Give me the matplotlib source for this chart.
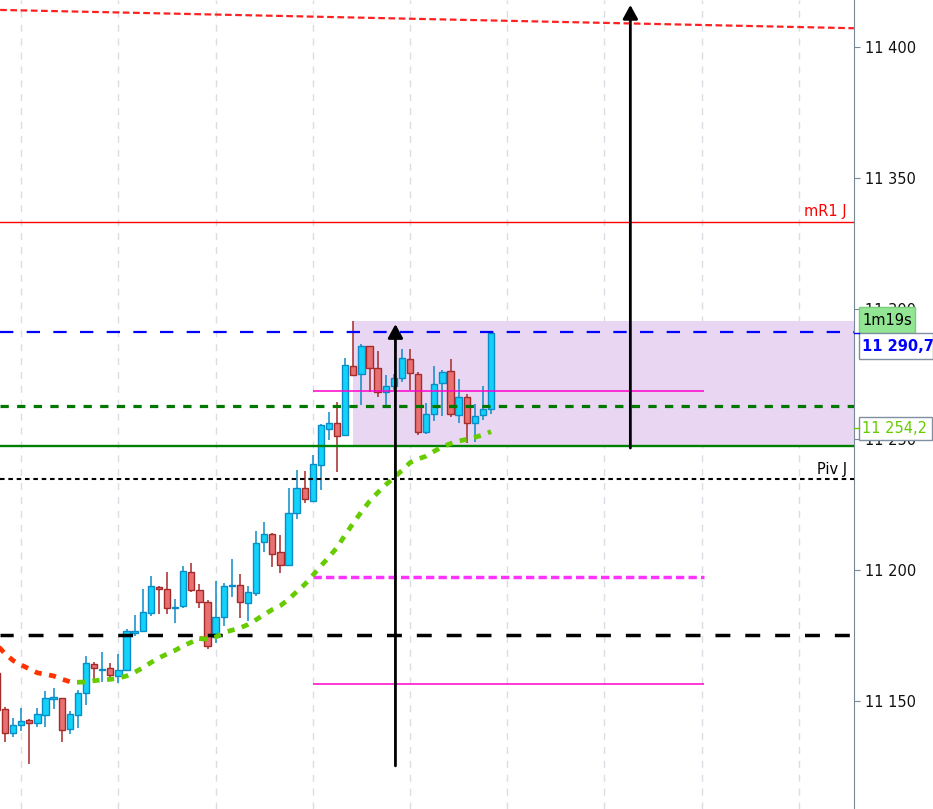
import numpy as np
import matplotlib.pyplot as plt
from matplotlib.patches import Rectangle
from matplotlib.lines import Line2D
from matplotlib.transforms import blended_transform_factory

# bougies : la premiere (index -1) est coupee par le bord gauche
opens = [11160.6, 11146.8, 11137.7, 11140.8, 11142.6, 11141.5, 11144.5, 11150.7, 11151.0, 11139.2,
         11144.5, 11152.9, 11164.0, 11161.8, 11162.5, 11159.4, 11161.7, 11175.9, 11176.8, 11183.5,
         11193.5, 11192.7, 11185.5, 11186.2, 11199.2, 11192.3, 11187.7, 11174.4, 11182.0, 11194.0,
         11194.2, 11187.3, 11191.2, 11210.7, 11213.7, 11206.8, 11202.1, 11222.0, 11231.3, 11226.6,
         11240.3, 11254.1, 11256.2, 11251.6, 11277.9, 11274.9, 11285.6, 11277.2, 11268.0, 11270.3,
         11273.4, 11280.6, 11274.9, 11252.7, 11259.6, 11271.4, 11276.0, 11259.2, 11266.1, 11256.2,
         11259.2, 11261.5]
highs = [11163.0, 11147.8, 11143.5, 11147.2, 11143.1, 11147.2, 11153.6, 11154.9, 11151.2, 11146.1,
         11154.2, 11167.2, 11164.8, 11168.7, 11164.4, 11167.9, 11177.5, 11182.9, 11192.8, 11197.8,
         11193.8, 11199.3, 11189.0, 11201.6, 11202.6, 11194.5, 11188.5, 11195.9, 11195.0, 11204.2,
         11198.4, 11194.1, 11215.0, 11218.4, 11214.1, 11213.5, 11231.4, 11238.3, 11237.9, 11244.0,
         11255.9, 11260.4, 11264.2, 11281.2, 11295.3, 11286.5, 11285.8, 11283.8, 11274.5, 11275.0,
         11284.6, 11284.6, 11275.7, 11263.8, 11277.9, 11276.4, 11280.6, 11273.0, 11267.4, 11263.4,
         11270.3, 11291.3]
lows = [11144.0, 11134.1, 11136.0, 11138.3, 11125.8, 11139.8, 11139.8, 11146.8, 11134.4, 11137.3,
        11139.6, 11148.4, 11158.3, 11157.0, 11158.7, 11156.8, 11161.7, 11174.6, 11176.8, 11182.6,
        11183.1, 11183.1, 11179.9, 11185.4, 11191.6, 11185.4, 11169.8, 11172.1, 11178.6, 11189.6,
        11181.6, 11180.7, 11189.9, 11207.1, 11201.3, 11199.0, 11202.1, 11219.7, 11225.8, 11226.2,
        11230.8, 11249.9, 11237.7, 11251.4, 11274.3, 11263.1, 11268.2, 11266.3, 11263.1, 11268.9,
        11271.8, 11268.9, 11251.6, 11252.2, 11256.9, 11258.8, 11258.4, 11256.2, 11248.5, 11248.9,
        11257.3, 11259.6]
closes = [11146.5, 11137.7, 11140.7, 11142.4, 11141.5, 11144.9, 11151.0, 11151.4, 11138.8, 11144.9,
          11152.9, 11164.4, 11162.5, 11162.1, 11159.8, 11161.7, 11176.8, 11176.8, 11183.9, 11193.8,
          11192.7, 11185.4, 11185.9, 11199.6, 11192.3, 11187.7, 11170.9, 11182.0, 11193.8, 11194.3,
          11187.7, 11191.6, 11210.3, 11213.7, 11206.3, 11202.1, 11221.8, 11231.3, 11227.3, 11240.5,
          11255.4, 11256.2, 11251.4, 11278.3, 11274.5, 11285.6, 11277.2, 11268.0, 11270.3, 11273.4,
          11281.0, 11275.3, 11252.7, 11259.6, 11271.1, 11275.7, 11259.6, 11266.1, 11256.2, 11258.8,
          11261.5, 11290.7]
# moyenne mobile
ma = [11171.4, 11168.0, 11165.4, 11163.7, 11162.2, 11160.7, 11160.1, 11159.5, 11158.3, 11157.3,
      11157.1, 11157.2, 11157.7, 11158.0, 11158.2, 11158.7, 11159.5, 11160.9, 11162.6, 11164.6,
      11166.4, 11167.9, 11169.3, 11171.0, 11172.4, 11173.8, 11173.6, 11174.4, 11176.0, 11177.0,
      11177.8, 11179.2, 11181.0, 11183.0, 11184.9, 11186.4, 11188.8, 11191.7, 11194.5, 11198.0,
      11201.6, 11205.0, 11208.7, 11213.5, 11218.0, 11222.3, 11226.3, 11229.6, 11232.6, 11235.4,
      11238.1, 11241.1, 11242.5, 11243.6, 11245.5, 11247.2, 11248.4, 11249.4, 11250.0, 11250.8,
      11251.7, 11253.0]
ma_label = 11254.2
last_price = 11290.7
countdown = "1m19s"

# niveaux
mr1_j = 11333.2
piv_j = 11235.0
blue_level = 11291.1
green_dash_level = 11262.7
green_level = 11247.6
black_dash_level = 11175.3
pink_top = 11268.7
pink_mid = 11197.4
pink_low = 11156.3
pink_start, pink_end = 38, 86.3
trend_start, trend_end = (-0.6, 11414.3), (104.8, 11407.3)
zone_start, zone_top, zone_bottom = 43.0, 11295.3, 11247.6
arrow1 = (48.2, 11125.1, 11294.1)
arrow2 = (77.2, 11246.7, 11416.2)

x = np.arange(-1, len(opens) - 1)
o = np.array(opens); c = np.array(closes); h = np.array(highs); l = np.array(lows)
up = c >= o

fig = plt.figure(figsize=(9.33, 8.09), dpi=100)
ax = fig.add_axes([0, 0, 854 / 933, 1])
ax.set_xlim(-0.617, 104.81)
ax.set_ylim(11108.6, 11418.1)

# grille verticale
ax.set_xticks(np.arange(2, 105, 12))
ax.tick_params(axis='x', length=0, labelbottom=False)
ax.grid(axis='x', color='#dcdce4', linestyle=(0, (5, 5)), linewidth=1)
ax.set_axisbelow(True)

for s in ['top', 'left', 'bottom']:
    ax.spines[s].set_visible(False)
ax.spines['right'].set_color('#778899')
ax.yaxis.tick_right()
ax.set_yticks(np.arange(11150, 11401, 50))
ax.set_yticklabels([f"{int(v):,}".replace(',', ' ') for v in np.arange(11150, 11401, 50)])
ax.tick_params(axis='y', length=4, color='#778899', pad=4, labelsize=10.5, labelcolor='#111111')

xmax = ax.get_xlim()[1]

# zone violette
ax.add_patch(Rectangle((zone_start, zone_bottom), xmax - zone_start, zone_top - zone_bottom,
                       facecolor='#e8d6f2', edgecolor='none', zorder=1))

# bougies
up_face, up_edge = '#12d2fa', '#0a8cc8'
dn_face, dn_edge = '#e87070', '#a52a2a'
ax.vlines(x[up], l[up], h[up], color=up_edge, lw=1.1, zorder=2)
ax.vlines(x[~up], l[~up], h[~up], color=dn_edge, lw=1.1, zorder=2)
body = np.maximum(np.abs(c - o), 0.4)
ax.bar(x[up], body[up], 0.78, bottom=np.minimum(o, c)[up], color=up_face, edgecolor=up_edge, lw=1, zorder=3)
ax.bar(x[~up], body[~up], 0.78, bottom=np.minimum(o, c)[~up], color=dn_face, edgecolor=dn_edge, lw=1, zorder=3)

# lignes horizontales
ax.axhline(mr1_j, color='#ff0000', lw=1, zorder=4)
ax.axhline(blue_level, color='#0000ff', lw=1.6, linestyle=(0, (6, 6)), zorder=4)
ax.axhline(green_dash_level, color='#007800', lw=2.3, linestyle=(0, (2.6, 2.6)), zorder=4)
ax.axhline(green_level, color='#008000', lw=1.7, zorder=4)
ax.axhline(piv_j, color='black', lw=1.5, linestyle=(0, (2.2, 1.8)), zorder=4)
ax.axhline(black_dash_level, color='black', lw=2.5, linestyle=(0.5, (4.3, 4.3)), zorder=4)
ax.hlines(pink_top, pink_start, pink_end, color='#ff00cc', lw=1.1, zorder=4)
ax.hlines(pink_mid, pink_start, pink_end, color='#ff33ff', lw=2.5, linestyle=(0, (2.4, 1.2)), zorder=4)
ax.hlines(pink_low, pink_start, pink_end, color='#ff00cc', lw=1.1, zorder=4)
ax.plot([trend_start[0], trend_end[0]], [trend_start[1], trend_end[1]], color='#ff2020',
        lw=1.6, linestyle=(0, (3, 1.6)), zorder=4)

ax.annotate('mR1 J', xy=(xmax, mr1_j), xytext=(-5, 2), textcoords='offset points',
            ha='right', va='bottom', color='#ff0000', fontsize=10.5)
ax.annotate('Piv J', xy=(xmax, piv_j), xytext=(-5, 1.5), textcoords='offset points',
            ha='right', va='bottom', color='black', fontsize=10.5)

# moyenne mobile : vert quand elle monte, rouge quand elle baisse
m = np.array(ma)
rise = np.diff(m) > 0
m_up = np.full(len(m), np.nan)
m_dn = np.full(len(m), np.nan)
for j, r in enumerate(rise):
    if r:
        m_up[j:j + 2] = m[j:j + 2]
    else:
        m_dn[j:j + 2] = m[j:j + 2]
ax.plot(x, m_dn, color='#ff3300', lw=3.4, linestyle=(0, (1.5, 1.6)), zorder=5)
ax.plot(x, m_up, color='#66cc00', lw=3.4, linestyle=(0, (1.5, 1.6)), zorder=5)

# fleches
for ax_x, y0, y1 in [arrow1, arrow2]:
    ax.annotate('', xy=(ax_x, y1), xytext=(ax_x, y0),
                arrowprops=dict(arrowstyle='-|>,head_length=0.55,head_width=0.3', color='black',
                                lw=2, mutation_scale=15, shrinkA=0, shrinkB=0), zorder=6)

# etiquettes a droite
tr = blended_transform_factory(fig.transFigure, ax.transData)
px = (ax.get_ylim()[1] - ax.get_ylim()[0]) / 809
bx0, bw = 859 / 933, 74 / 933
ax_edge = 854 / 933

fig.add_artist(Rectangle((bx0, last_price), 56 / 933, 26 * px, transform=tr,
                         facecolor='#92e592', edgecolor='#7ccc7c', lw=1))
fig.text(bx0 + 3 / 933, last_price + 13 * px, countdown, transform=tr, va='center',
         fontsize=10.5, color='black')
fig.add_artist(Rectangle((bx0, last_price - 26 * px), bw, 26 * px, transform=tr,
                         facecolor='white', edgecolor='#8090a0', lw=1))
fig.text(bx0 + 3 / 933, last_price - 13 * px, f"{last_price:,.1f}".replace(',', ' ').replace('.', ','),
         transform=tr, va='center', fontsize=10.5, fontweight='bold', color='#0000ff')
fig.add_artist(Line2D([ax_edge, bx0], [last_price, last_price], transform=tr, color='#0000ff', lw=1))

fig.add_artist(Rectangle((bx0, ma_label - 11.5 * px), bw - 1 / 933, 23 * px, transform=tr,
                         facecolor='white', edgecolor='#8090a0', lw=1))
fig.text(bx0 + 3 / 933, ma_label, f"{ma_label:,.1f}".replace(',', ' ').replace('.', ','),
         transform=tr, va='center', fontsize=10.5, color='#66cc00')
fig.add_artist(Line2D([ax_edge, bx0], [ma_label, ma_label], transform=tr, color='#66cc00', lw=1))

fig.savefig('out.png', dpi=100)
